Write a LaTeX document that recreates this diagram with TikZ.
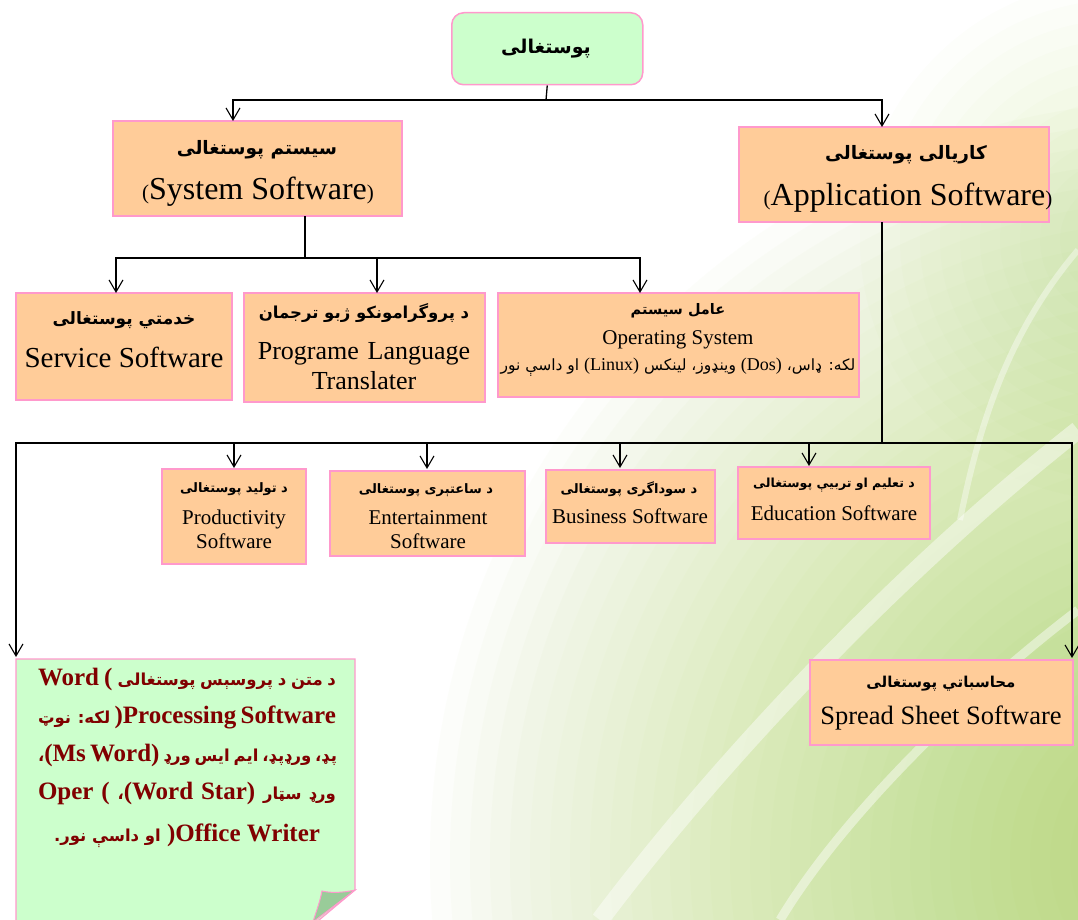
\documentclass[tikz,border=0pt]{standalone}
\usepackage{fontspec}
\setmainfont{Liberation Serif}
\newfontfamily\af[Script=Arabic]{DejaVu Sans}
\TeXXeTstate=1
\usetikzlibrary{arrows.meta}
\definecolor{peach}{HTML}{FFCC99}
\definecolor{pinkb}{HTML}{FF99CC}
\definecolor{mint}{HTML}{CCFFCC}
\definecolor{mintdark}{HTML}{99CC99}
\definecolor{darkred}{HTML}{800000}
\definecolor{gA}{HTML}{9CCC3C}
\tikzset{
  pbox/.style={draw=pinkb, line width=1.2pt, fill=peach, anchor=north west, inner sep=0pt, outer sep=0pt},
  conn/.style={line width=1.3pt, draw=black},
  arr/.style={conn, -{Straight Barb[length=12pt,width=14pt,line width=1.1pt]}},
  arh/.style={inner sep=0pt, font=\af\bfseries\fontsize{#1}{#1}\selectfont},
  enl/.style={inner sep=0pt, font=\rmfamily\fontsize{#1}{#1}\selectfont},
  glow/.style={fill=gA, opacity=#1},
}
\newcommand{\wa}[1]{{\af\fontsize{16.5}{16.5}\selectfont #1}}
\begin{document}
\begin{tikzpicture}[x=1pt,y=-1pt]
\useasboundingbox (0,0) rectangle (1078,920);
% background
\begin{scope}
\clip (0,0) rectangle (1078,920);
\fill[white] (0,0) rectangle (1078,920);
\foreach \r in {80,100,...,760} {\fill[glow=0.024] (1190,860) circle (\r pt);}
\foreach \r in {20,40,...,260} {\fill[glow=0.018] (1120,240) circle (\r pt);}
\draw[white, line width=18pt, opacity=0.45] (1078,430) .. controls (900,570) and (720,760) .. (600,920);
\draw[white, line width=9pt, opacity=0.45] (1078,610) .. controls (960,700) and (840,820) .. (780,920);
\draw[white, line width=6pt, opacity=0.4] (1078,250) .. controls (1010,330) and (980,420) .. (960,520);
\end{scope}
% root
\node[draw=pinkb, line width=1.5pt, fill=mint, rounded corners=12pt, anchor=north west, minimum width=191pt, minimum height=72pt, inner sep=0pt] (root) at (451,12) {};
\node[arh=19] (rootT) at (546,49) {\beginR پوستغالی\endR};
% level 1
\node[pbox, minimum width=289pt, minimum height=95pt] (sys) at (113,121) {};
\node[arh=18.5] (sysA) at (257,150) {\beginR سیستم پوستغالی\endR};
\node[enl=32] (sysE) at (258,192) {{\fontsize{21}{21}\selectfont(}System Software{\fontsize{21}{21}\selectfont)}};
\node[pbox, minimum width=310pt, minimum height=95pt] (app) at (739,127) {};
\node[arh=18.5] (appA) at (906,155) {\beginR کاریالی پوستغالی\endR};
\node[enl=32] (appE) at (908,198) {{\fontsize{21}{21}\selectfont(}Application Software{\fontsize{21}{21}\selectfont)}};
% level 2
\node[pbox, minimum width=216pt, minimum height=107pt] (srv) at (16,293) {};
\node[arh=17] (srvA) at (124,320) {\beginR خدمتي پوستغالی\endR};
\node[enl=29] (srvE) at (124,357) {Service Software};
\node[pbox, minimum width=241pt, minimum height=109pt] (trn) at (244,293) {};
\node[arh=16.5] (trnA) at (364,313) {\beginR د پروگرامونکو ژبو ترجمان\endR};
\node[enl=26, align=center, text width=240pt] (trnE) at (364,366) {Programe Language\\[4pt] Translater};
\node[pbox, minimum width=361pt, minimum height=104pt] (os) at (498,293) {};
\node[arh=14.5] (osA) at (678,311) {\beginR عامل سیستم\endR};
\node[enl=21] (osE) at (678,340) {Operating System};
\node[inner sep=0pt, font=\af\fontsize{15.5}{15.5}\selectfont] (osX) at (678,367) {\beginR لکه: ډاس، \beginL{\rmfamily\fontsize{18}{18}\selectfont(Dos)}\endL{} وینډوز، لینکس \beginL{\rmfamily\fontsize{18}{18}\selectfont(Linux)}\endL{} او داسې نور\endR};
% level 3
\node[pbox, minimum width=144pt, minimum height=95pt] (prd) at (162,469) {};
\node[arh=13] (prdA) at (234,489) {\beginR د تولید پوستغالی\endR};
\node[enl=21, align=center] (prdE) at (234,529) {Productivity\\[3pt] Software};
\node[pbox, minimum width=195pt, minimum height=85pt] (ent) at (330,471) {};
\node[arh=13] (entA) at (426,490) {\beginR د ساعتېری پوستغالی\endR};
\node[enl=21, align=center] (entE) at (428,530) {Entertainment\\[3pt] Software};
\node[pbox, minimum width=169pt, minimum height=73pt] (bus) at (546,470) {};
\node[arh=13] (busA) at (629,489) {\beginR د سوداگری پوستغالی\endR};
\node[enl=21] (busE) at (630,516) {Business Software};
\node[pbox, minimum width=192pt, minimum height=72pt] (edu) at (738,467) {};
\node[arh=12.5] (eduA) at (834,485) {\beginR د تعلیم او تربیې پوستغالی\endR};
\node[enl=21] (eduE) at (834,513) {Education Software};
\node[pbox, minimum width=263pt, minimum height=85pt] (spr) at (810,660) {};
\node[arh=15] (sprA) at (941,684) {\beginR محاسباتي پوستغالی\endR};
\node[enl=26.5] (sprE) at (941,718) {Spread Sheet Software};
% word processing note
\path[draw=pinkb, fill=mint, line width=1.2pt] (16,659) -- (355,659) -- (355,890) -- (313,925) -- (16,925) -- cycle;
\path[draw=pinkb, fill=mintdark, line width=1pt] (355,890) .. controls (342,893) and (330,893) .. (322,891) .. controls (320,902) and (316,912) .. (313,922) -- cycle;
\node[inner sep=0pt, anchor=north, text=darkred, align=center, font=\rmfamily\bfseries\fontsize{25}{38}\selectfont] (wp) at (187,668) {%
\hbox to 298pt{\beginR\wa{د متن د پروسېس پوستغالی} ( \beginL Word\endL\endR}\\
\hbox to 298pt{\beginR\beginL Processing Software\endL{}) \wa{لکه: نوټ}\endR}\\
\hbox to 298pt{\beginR\wa{پډ، ورډپډ، ایم ایس ورډ} \beginL(Ms Word)\endL\wa{،}\endR}\\
\hbox to 298pt{\beginR\wa{ورډ سټار} \beginL(Word Star)\endL\wa{،} ( \beginL Oper\endL\endR}\\[4pt]
\beginR\beginL Office Writer\endL{}) \wa{او داسې نور.}\endR};
% connectors
\coordinate (j1) at (546,100);
\coordinate (sysIn) at (233,121);
\coordinate (appIn) at (882,127);
\draw[conn] (root.south) -- (j1);
\draw[arr] (j1) -| (sysIn);
\draw[arr] (j1) -| (appIn);
\coordinate (sysOut) at (305,216);
\coordinate (j2) at (305,258);
\coordinate (srvIn) at (116,293);
\coordinate (trnIn) at (377,293);
\coordinate (osIn) at (640,293);
\draw[conn] (sysOut) -- (j2);
\draw[arr] (j2) -| (srvIn);
\draw[arr] (j2) -| (trnIn);
\draw[arr] (j2) -| (osIn);
\coordinate (appOut) at (882,222);
\coordinate (j3) at (882,443);
\coordinate (wpIn) at (16,657);
\coordinate (prdIn) at (234,468);
\coordinate (entIn) at (427,469);
\coordinate (busIn) at (620,468);
\coordinate (eduIn) at (809,466);
\coordinate (sprIn) at (1072,658);
\draw[conn] (appOut) -- (j3);
\draw[arr, line width=1.6pt] (j3) -| (wpIn);
\draw[arr, line width=1.6pt] (j3) -| (sprIn);
\draw[arr] (j3) -| (prdIn);
\draw[arr] (j3) -| (entIn);
\draw[arr] (j3) -| (busIn);
\draw[arr] (j3) -| (eduIn);
\end{tikzpicture}
\end{document}
